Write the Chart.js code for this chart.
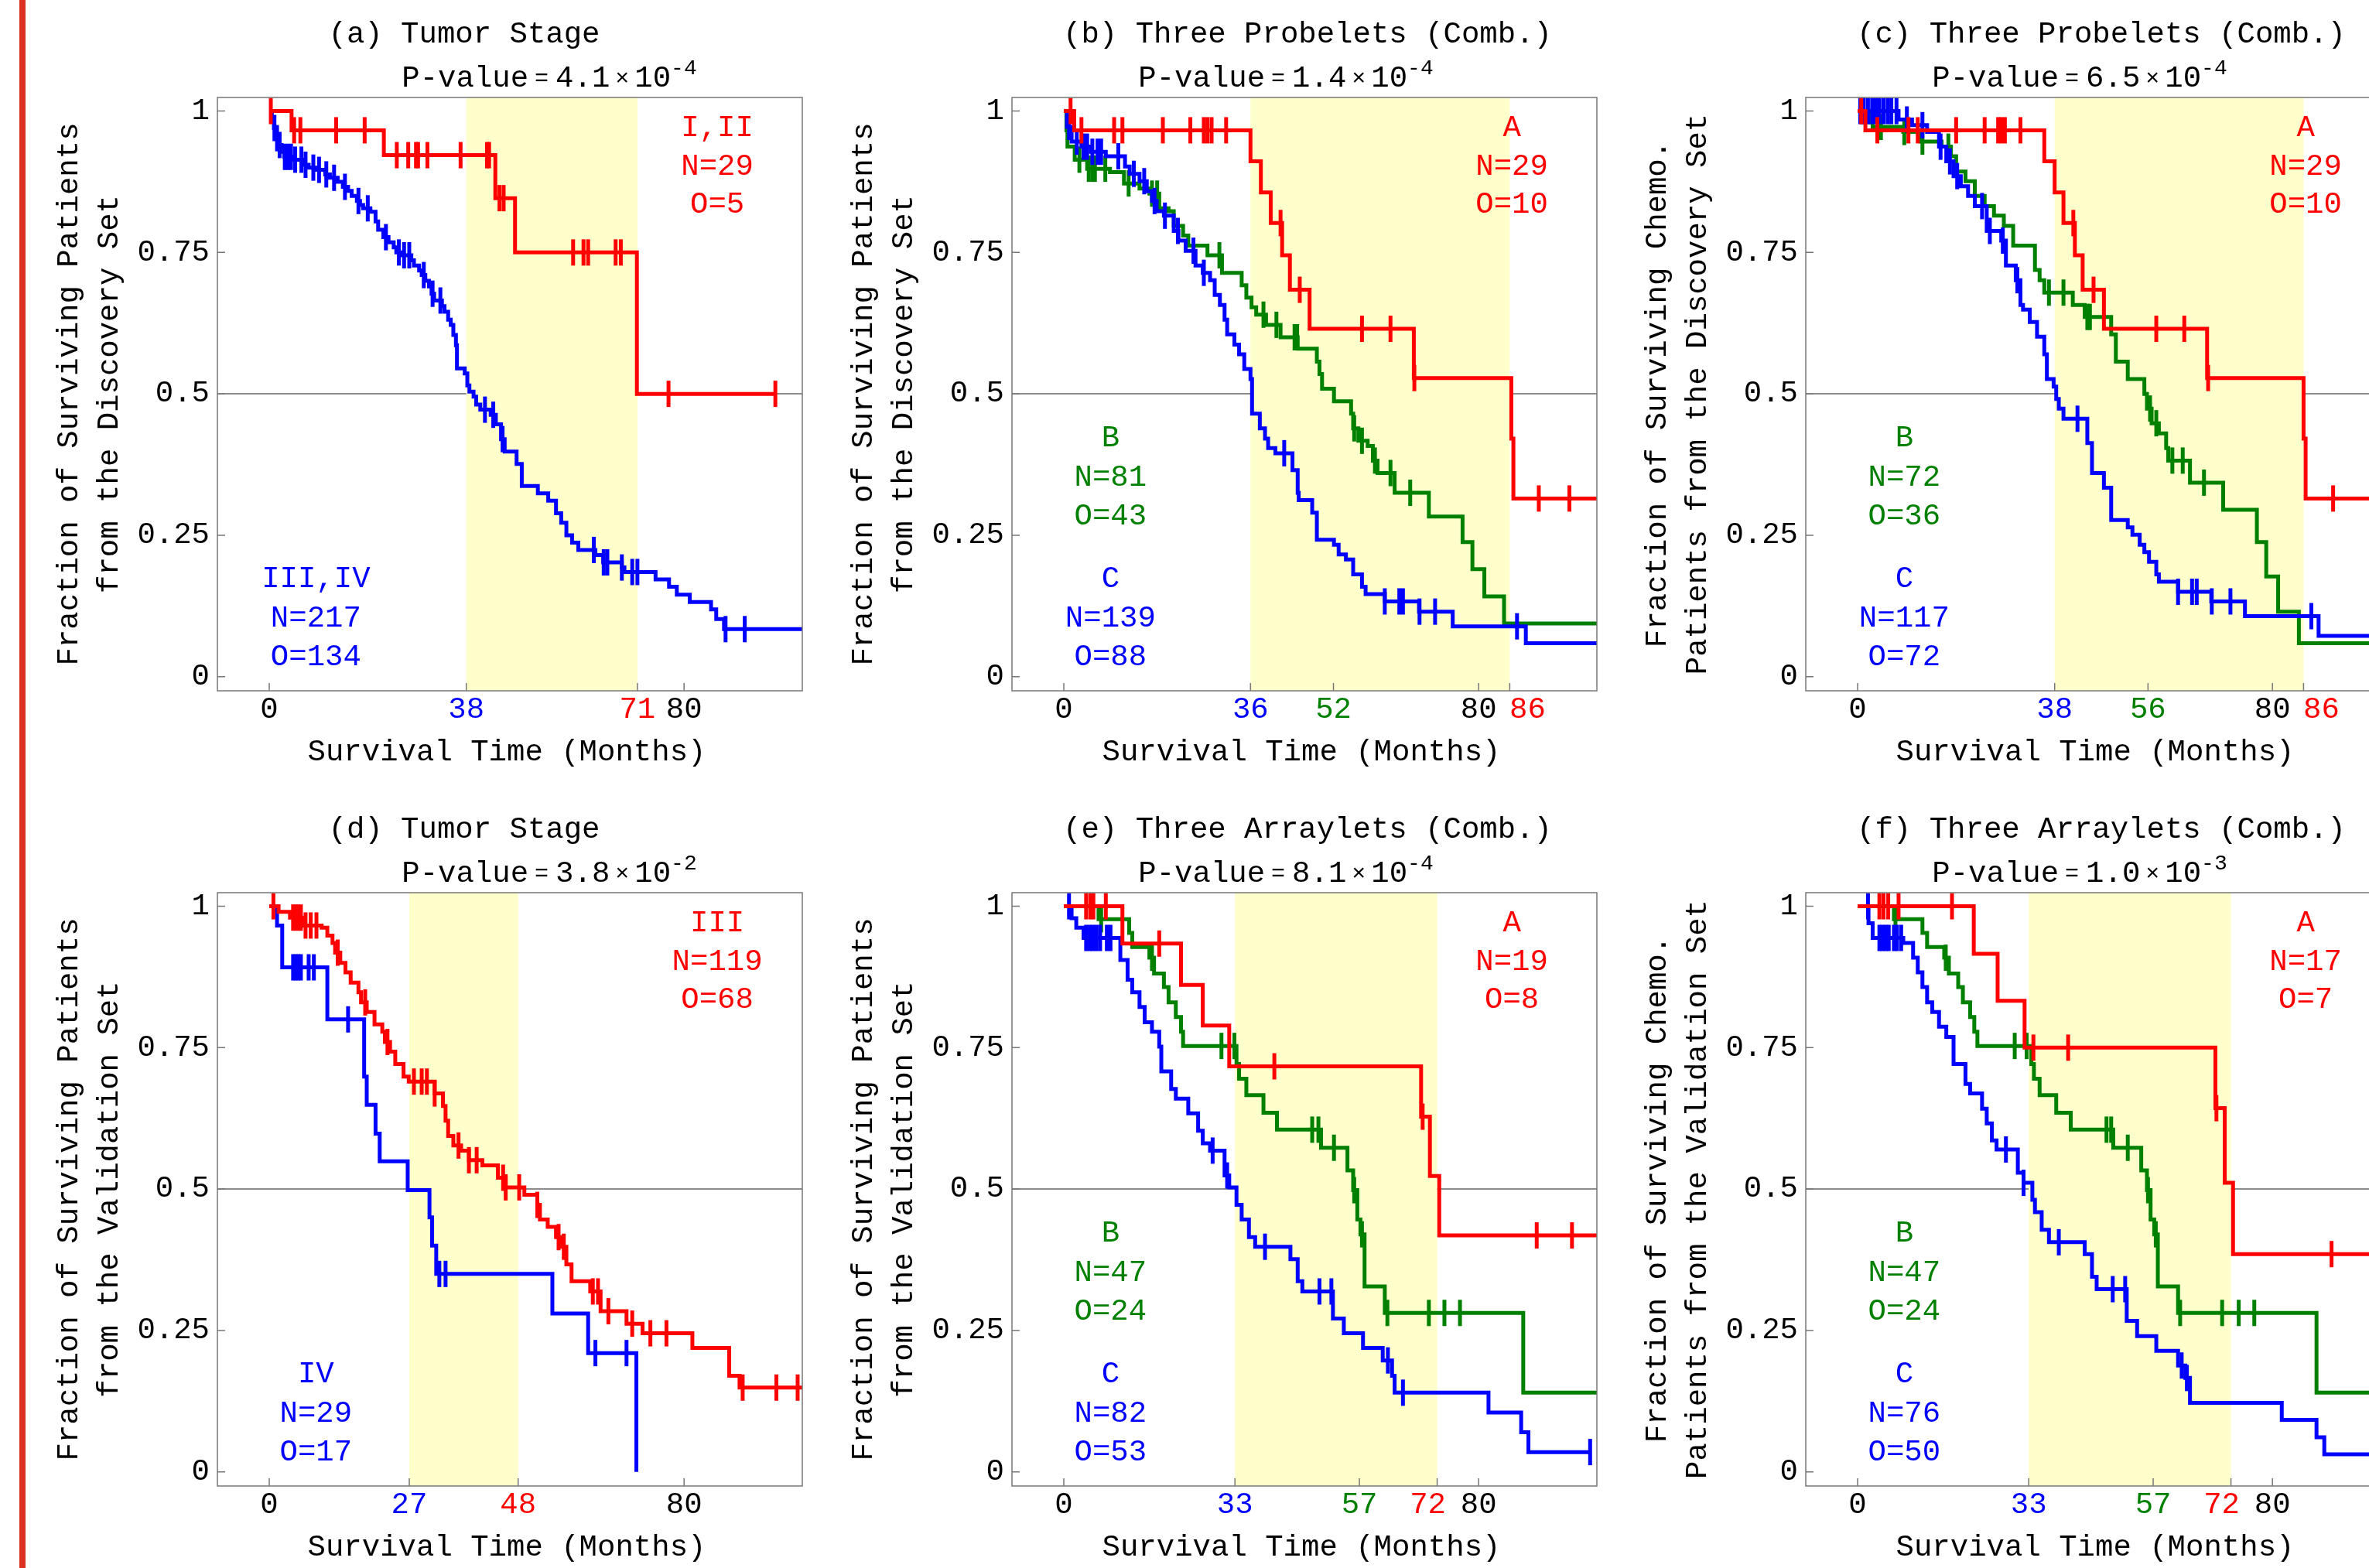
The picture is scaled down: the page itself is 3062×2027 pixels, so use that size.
<!DOCTYPE html>
<html>
<head>
<meta charset="utf-8">
<title>Survival by tumor stage, probelets and arraylets</title>
<script src="https://cdn.jsdelivr.net/npm/chart.js@4.4.1/dist/chart.umd.min.js"></script>
<style>
  html, body { margin: 0; padding: 0; background: #fff; width: 3062px; height: 2027px; overflow: hidden; }
  body { position: relative; }
  #edge { position: absolute; left: 25px; top: 0; width: 8px; height: 2027px; background: #dd3322; }
  canvas { position: absolute; }
</style>
</head>
<body>
<div id="edge"></div>
<script>
// ---- values (months, fraction surviving) ----
const yTicks = [0, 0.25, 0.5, 0.75, 1];

// (a) Tumor Stage, discovery set
const aTicks = [0, 38, 71, 80];
const aBand = [38, 71];
const aPValue = ['4.1', '-4'];
const aEarly = [[0,1],[4.3,0.966],[22.1,0.922],[43.6,0.846],[47.4,0.75],[70.9,0.5],[97.6,0.5]];
const aEarlyCens = [0.3,4.8,6.0,12.9,18.4,24.6,26.8,28.3,28.7,30.5,36.9,42.0,42.4,44.4,45.2,58.6,60.6,61.5,66.8,67.8,77.0,97.6];
const aLate = [[0,1],[0.5,0.985],[0.9,0.97],[1.2,0.952],[1.7,0.94],[2.4,0.928],[2.9,0.919],[4.5,0.914],[6.8,0.905],[7.6,0.9],
  [9.1,0.896],[10.8,0.888],[11.7,0.882],[13.2,0.875],[14.2,0.866],[15.2,0.859],[15.9,0.85],[16.9,0.841],[17.5,0.834],[18.1,0.828],
  [19.5,0.822],[20.5,0.805],[21.0,0.79],[22.0,0.777],[23.0,0.768],[24.0,0.759],[24.5,0.75],[25.4,0.745],[27.4,0.736],[27.9,0.727],
  [28.9,0.718],[29.4,0.71],[30.1,0.7],[30.8,0.69],[31.3,0.677],[31.8,0.665],[33.3,0.655],[33.8,0.645],[34.5,0.631],[35.0,0.622],
  [35.5,0.604],[36.0,0.586],[36.2,0.545],[37.7,0.536],[38.2,0.515],[38.6,0.504],[39.4,0.495],[39.9,0.481],[40.7,0.472],[42.7,0.463],
  [43.7,0.446],[44.7,0.42],[45.4,0.398],[47.7,0.376],[48.7,0.337],[51.8,0.324],[53.8,0.311],[55.3,0.289],[56.3,0.272],[57.3,0.25],
  [58.4,0.237],[59.6,0.224],[62.9,0.215],[64.4,0.202],[68.0,0.193],[68.5,0.185],[74.5,0.172],[77.1,0.159],[78.6,0.145],[81.1,0.132],
  [85.2,0.119],[86.2,0.102],[87.7,0.084],[103,0.084]];
const aLateCens = [1.0,1.5,2.0,3.0,3.6,4.2,5.0,6.2,7.0,8.5,9.6,11.0,12.5,14.6,17.2,19.0,22.5,25.0,26.0,27.0,29.8,31.5,33.0,
  41.6,43.2,45.0,62.6,64.5,65.2,68.0,70.0,71.0,88.0,91.7];
const aEarlyText = ['I,II', 'N=29', 'O=5'];
const aLateText = ['III,IV', 'N=217', 'O=134'];

// (b) Three Probelets (Comb.), discovery set
const bTicks = [0, 36, 52, 80, 86];
const bBand = [36, 86];
const bPValue = ['1.4', '-4'];
const bA = [[0,1],[2.0,0.966],[36.0,0.911],[38.0,0.856],[39.9,0.802],[42.1,0.745],[43.6,0.684],[47.4,0.615],[67.5,0.528],
  [86.3,0.421],[86.7,0.315],[103,0.315]];
const bACens = [1.3,3.4,9.7,11.3,19.1,24.4,27.0,27.7,28.5,31.3,41.8,45.5,57.5,63.0,67.6,91.6,97.5];
const bB = [[0,1],[0.5,0.966],[0.7,0.937],[2.1,0.914],[4.5,0.898],[8.9,0.892],[11.6,0.872],[14.6,0.863],[16.5,0.854],[18.4,0.828],
  [20.2,0.823],[21.2,0.797],[23.0,0.78],[24.0,0.762],[27.7,0.745],[30.5,0.714],[34.3,0.692],[35.2,0.67],[36.2,0.653],[37.1,0.64],
  [39.0,0.622],[41.8,0.6],[45.1,0.58],[48.8,0.557],[49.3,0.535],[49.8,0.509],[52.1,0.487],[55.4,0.465],[55.8,0.439],[56.8,0.417],
  [58.6,0.408],[59.6,0.382],[60.5,0.36],[63.8,0.325],[70.4,0.283],[76.9,0.238],[78.8,0.19],[81.1,0.142],[84.9,0.094],[103,0.094]];
const bBCens = [3.0,4.8,5.5,6.0,8.0,12.5,17.0,18.0,30.0,38.5,41.0,44.5,45.0,56.0,57.5,60.0,63.0,66.8];
const bC = [[0,1],[0.6,0.972],[1.5,0.946],[3.4,0.937],[5.2,0.928],[8.1,0.92],[11.8,0.902],[12.7,0.889],[14.6,0.876],[16.0,0.858],
  [17.0,0.841],[17.9,0.823],[19.3,0.815],[21.2,0.788],[22.1,0.771],[23.5,0.753],[25.4,0.727],[26.8,0.714],[28.2,0.701],[29.1,0.675],
  [30.1,0.657],[31.0,0.631],[31.5,0.605],[32.9,0.587],[33.8,0.57],[34.8,0.544],[36.0,0.526],[36.3,0.465],[37.8,0.439],[38.8,0.421],
  [39.4,0.404],[40.8,0.395],[44.1,0.365],[45.1,0.325],[45.3,0.312],[47.9,0.29],[48.8,0.242],[52.1,0.233],[53.0,0.216],[54.4,0.207],
  [55.8,0.181],[57.5,0.159],[58.2,0.146],[61.9,0.133],[68.5,0.115],[75.0,0.089],[89.1,0.059],[103,0.059]];
const bCCens = [1.0,2.5,3.8,4.5,5.5,6.5,7.2,10.5,13.5,15.5,17.5,19.5,22.0,25.0,27.0,42.5,61.9,64.7,65.4,68.6,71.6,87.4];
const bAText = ['A', 'N=29', 'O=10'];
const bBText = ['B', 'N=81', 'O=43'];
const bCText = ['C', 'N=139', 'O=88'];

// (c) Three Probelets (Comb.), chemo patients of the discovery set
const cTicks = [0, 38, 56, 80, 86];
const cBand = [38, 86];
const cPValue = ['6.5', '-4'];
const cA = [[0,1],[1.5,0.966],[36.0,0.911],[38.0,0.856],[39.7,0.802],[41.9,0.745],[43.4,0.684],[47.5,0.615],[67.4,0.528],
  [86.0,0.421],[86.4,0.315],[103,0.315]];
const cACens = [0.7,3.8,9.8,11.6,19.0,24.5,27.1,27.7,28.4,31.4,41.6,45.5,57.6,63.0,67.6,91.7];
const cB = [[0,1],[2.4,0.98],[2.9,0.972],[8.8,0.963],[12.1,0.946],[16.2,0.937],[18.0,0.92],[19.0,0.893],[20.8,0.876],[22.6,0.85],
  [24.5,0.832],[26.3,0.815],[28.2,0.797],[30.0,0.762],[34.2,0.719],[35.1,0.701],[36.0,0.679],[41.5,0.657],[43.8,0.636],[48.9,0.605],
  [49.8,0.557],[52.1,0.526],[55.3,0.5],[55.8,0.474],[56.7,0.448],[58.1,0.43],[59.5,0.404],[59.9,0.382],[64.1,0.343],[70.5,0.295],
  [77.0,0.238],[78.8,0.177],[81.1,0.115],[85.1,0.059],[103,0.059]];
const cBCens = [1.0,4.5,9.0,12.5,17.5,36.9,39.7,44.3,44.8,56.4,57.6,60.7,62.7,66.8];
const cC = [[0,1],[7.9,0.985],[10.5,0.975],[13.4,0.963],[15.7,0.937],[17.1,0.911],[18.5,0.885],[19.9,0.867],[21.3,0.85],[22.6,0.832],
  [24.9,0.788],[27.7,0.771],[28.6,0.727],[30.5,0.701],[31.4,0.657],[31.9,0.649],[33.2,0.627],[34.6,0.601],[36.0,0.57],[36.5,0.526],
  [37.8,0.513],[38.3,0.491],[38.8,0.474],[39.7,0.456],[44.3,0.413],[45.2,0.36],[47.5,0.334],[48.9,0.277],[52.1,0.264],[53.0,0.251],
  [54.4,0.233],[55.3,0.22],[56.2,0.203],[57.6,0.181],[58.1,0.168],[61.8,0.15],[68.2,0.133],[74.7,0.107],[88.9,0.072],[103,0.072]];
const cCCens = [0.5,1.2,2.0,2.8,3.5,4.2,5.0,5.8,6.5,7.5,9.5,12.5,16.0,17.8,19.2,24.0,25.5,28.0,30.8,42.4,61.8,64.5,65.4,68.3,71.9,87.5];
const cAText = ['A', 'N=29', 'O=10'];
const cBText = ['B', 'N=72', 'O=36'];
const cCText = ['C', 'N=117', 'O=72'];

// (d) Tumor Stage, validation set
const dTicks = [0, 27, 48, 80];
const dBand = [27, 48];
const dPValue = ['3.8', '-2'];
const dIII = [[0,1],[1.8,0.99],[4.0,0.98],[6.6,0.966],[10.1,0.962],[11.2,0.948],[12.2,0.935],[12.7,0.918],[13.7,0.9],[14.7,0.883],
  [15.7,0.865],[17.2,0.848],[17.7,0.83],[18.8,0.813],[20.3,0.791],[21.8,0.778],[22.3,0.76],[23.3,0.743],[24.3,0.721],[25.9,0.699],
  [26.9,0.69],[31.9,0.669],[33.5,0.647],[34.0,0.621],[34.5,0.594],[35.5,0.577],[37.0,0.568],[38.5,0.551],[41.1,0.542],[44.1,0.52],
  [45.6,0.503],[49.2,0.49],[51.7,0.472],[52.2,0.446],[53.7,0.433],[55.3,0.415],[56.3,0.398],[57.3,0.367],[58.3,0.337],[61.9,0.319],
  [63.9,0.284],[68.9,0.262],[72.0,0.245],[81.6,0.219],[88.7,0.17],[90.7,0.149],[103,0.149]];
const dIIICens = [0.8,4.6,5.1,5.6,6.1,7.0,8.0,9.1,13.2,18.5,22.8,27.9,29.4,30.4,31.9,36.5,38.5,40.0,45.1,45.6,48.2,51.7,55.8,56.8,
  62.4,63.4,65.4,70.0,73.5,76.6,91.3,97.8,101.9];
const dIV = [[0,1],[1.5,0.966],[2.5,0.892],[11.2,0.8],[18.3,0.699],[18.8,0.649],[20.5,0.598],[21.3,0.549],[26.7,0.498],[30.9,0.45],
  [31.4,0.4],[32.2,0.35],[54.6,0.28],[61.5,0.21],[70.8,0.0]];
const dIVCens = [4.6,5.1,5.6,6.1,7.6,8.6,15.2,32.8,34.0,62.9,68.9];
const dIIIText = ['III', 'N=119', 'O=68'];
const dIVText = ['IV', 'N=29', 'O=17'];

// (e) Three Arraylets (Comb.), validation set
const eTicks = [0, 33, 57, 72, 80];
const eBand = [33, 72];
const ePValue = ['8.1', '-4'];
const eA = [[0,1],[11.3,0.934],[22.6,0.861],[26.8,0.789],[31.9,0.717],[68.9,0.628],[70.6,0.523],[72.4,0.418],[103,0.418]];
const eACens = [4.3,5.1,5.7,8.1,18.4,40.6,69.2,91.2,98.0];
const eB = [[0,1],[6.7,0.977],[12.6,0.953],[13.2,0.928],[16.5,0.909],[17.4,0.881],[19.3,0.857],[20.2,0.83],[21.6,0.804],[22.6,0.778],
  [23.0,0.753],[33.3,0.721],[33.8,0.695],[35.2,0.666],[38.5,0.635],[41.1,0.605],[49.6,0.573],[54.7,0.533],[55.8,0.498],[56.6,0.446],
  [57.2,0.42],[58.0,0.328],[61.9,0.281],[88.6,0.14],[103,0.14]];
const eBCens = [7.2,17.0,30.4,32.9,47.9,49.1,52.1,56.0,57.5,62.4,70.4,73.4,76.4];
const eC = [[0,1],[1.5,0.979],[2.4,0.962],[3.8,0.944],[10.9,0.905],[12.3,0.87],[13.2,0.848],[14.6,0.822],[15.6,0.795],[17.0,0.778],
  [18.4,0.752],[18.8,0.708],[20.7,0.677],[21.6,0.66],[24.0,0.634],[25.9,0.603],[26.8,0.581],[28.2,0.568],[31.0,0.524],[31.9,0.503],
  [33.3,0.472],[34.3,0.446],[35.7,0.415],[36.9,0.398],[43.7,0.376],[45.1,0.337],[46.0,0.319],[51.9,0.271],[54.0,0.245],[57.7,0.219],
  [61.5,0.197],[63.3,0.17],[63.8,0.14],[81.9,0.105],[88.2,0.07],[89.6,0.035],[101.5,0.035]];
const eCCens = [1.0,4.3,5.0,5.6,6.3,7.0,8.3,9.0,28.7,31.5,38.8,49.3,51.6,62.5,65.4,101.5];
const eAText = ['A', 'N=19', 'O=8'];
const eBText = ['B', 'N=47', 'O=24'];
const eCText = ['C', 'N=82', 'O=53'];

// (f) Three Arraylets (Comb.), chemo patients of the validation set
const fTicks = [0, 33, 57, 72, 80];
const fBand = [33, 72];
const fPValue = ['1.0', '-3'];
const fA = [[0,1],[22.4,0.916],[27.0,0.833],[32.2,0.75],[69.0,0.643],[70.8,0.511],[72.4,0.385],[103,0.385]];
const fACens = [4.2,5.0,5.9,7.9,18.2,33.9,40.6,69.2,91.4];
const fB = [[0,1],[7.0,0.977],[12.5,0.953],[13.4,0.928],[16.7,0.909],[17.6,0.881],[19.4,0.857],[20.3,0.83],[21.7,0.804],[22.5,0.778],
  [23.1,0.753],[33.5,0.721],[34.0,0.695],[35.1,0.666],[38.3,0.635],[41.1,0.605],[49.3,0.573],[54.7,0.533],[55.8,0.498],[56.5,0.446],
  [57.2,0.42],[57.9,0.328],[61.8,0.281],[88.5,0.14],[103,0.14]];
const fBCens = [7.3,17.0,30.3,32.6,48.0,48.9,52.1,56.0,57.5,62.2,70.3,73.5,76.5];
const fC = [[0,1],[2.1,0.97],[2.9,0.944],[8.8,0.935],[10.7,0.909],[11.6,0.883],[12.5,0.857],[13.4,0.83],[14.4,0.813],[15.7,0.787],
  [17.1,0.769],[18.5,0.721],[20.8,0.686],[21.7,0.669],[24.0,0.642],[24.9,0.616],[25.9,0.586],[26.8,0.57],[30.9,0.529],[32.0,0.511],
  [33.7,0.481],[34.2,0.459],[35.5,0.428],[36.9,0.406],[43.8,0.385],[45.2,0.345],[46.1,0.323],[51.9,0.267],[53.9,0.24],[57.6,0.214],
  [61.8,0.188],[63.2,0.166],[64.1,0.122],[81.8,0.092],[88.5,0.061],[90.0,0.031],[103,0.031]];
const fCCens = [2.0,4.2,4.8,5.4,6.0,7.0,7.6,8.4,28.6,32.0,38.8,49.2,51.6,62.5,63.5];
const fAText = ['A', 'N=17', 'O=7'];
const fBText = ['B', 'N=47', 'O=24'];
const fCText = ['C', 'N=76', 'O=50'];

// ---- styles and layout ----
const FONT = "'Liberation Mono', 'Courier New', monospace";
const FS = 39;
const RED = '#ff0000', GREEN = '#008000', BLUE = '#0000ff';
const BAND = '#ffffcc', FRAME = '#777777';
const FRAME_LEFT = [281, 1308, 2334];
const FRAME_TOP = [126, 1154];
const PAD_LEFT = 240, PAD_TOP = 125, AXIS_H = 110, PLOT_W = 768, PLOT_H = 767;
// where each text group sits, in data units
const GROUP_POS = {
  top: { t: 86.4, rows: [0.97, 0.902, 0.834] },
  mid: { t: 9.0, rows: [0.421, 0.351, 0.283] },
  low: { t: 9.0, rows: [0.172, 0.102, 0.034] }
};

const discovery = ['Fraction of Surviving Patients', 'from the Discovery Set'];
const discoveryChemo = ['Fraction of Surviving Chemo.', 'Patients from the Discovery Set'];
const validation = ['Fraction of Surviving Patients', 'from the Validation Set'];
const validationChemo = ['Fraction of Surviving Chemo.', 'Patients from the Validation Set'];

const panels = [
  { id: 'a', col: 0, row: 0, title: '(a) Tumor Stage', pValue: aPValue, yTitle: discovery,
    ticks: aTicks, tickColors: { 38: BLUE, 71: RED }, labelShift: {}, band: aBand,
    curves: [{ steps: aEarly, cens: aEarlyCens, color: RED }, { steps: aLate, cens: aLateCens, color: BLUE }],
    groups: [{ pos: 'top', color: RED, lines: aEarlyText }, { pos: 'low', color: BLUE, lines: aLateText }] },
  { id: 'b', col: 1, row: 0, title: '(b) Three Probelets (Comb.)', pValue: bPValue, yTitle: discovery,
    ticks: bTicks, tickColors: { 36: BLUE, 52: GREEN, 86: RED }, labelShift: { 86: 23 }, band: bBand,
    curves: [{ steps: bA, cens: bACens, color: RED }, { steps: bC, cens: bCCens, color: BLUE }, { steps: bB, cens: bBCens, color: GREEN }],
    groups: [{ pos: 'top', color: RED, lines: bAText }, { pos: 'mid', color: GREEN, lines: bBText }, { pos: 'low', color: BLUE, lines: bCText }] },
  { id: 'c', col: 2, row: 0, title: '(c) Three Probelets (Comb.)', pValue: cPValue, yTitle: discoveryChemo,
    ticks: cTicks, tickColors: { 38: BLUE, 56: GREEN, 86: RED }, labelShift: { 86: 23 }, band: cBand,
    curves: [{ steps: cA, cens: cACens, color: RED }, { steps: cC, cens: cCCens, color: BLUE }, { steps: cB, cens: cBCens, color: GREEN }],
    groups: [{ pos: 'top', color: RED, lines: cAText }, { pos: 'mid', color: GREEN, lines: cBText }, { pos: 'low', color: BLUE, lines: cCText }] },
  { id: 'd', col: 0, row: 1, title: '(d) Tumor Stage', pValue: dPValue, yTitle: validation,
    ticks: dTicks, tickColors: { 27: BLUE, 48: RED }, labelShift: {}, band: dBand,
    curves: [{ steps: dIII, cens: dIIICens, color: RED }, { steps: dIV, cens: dIVCens, color: BLUE }],
    groups: [{ pos: 'top', color: RED, lines: dIIIText }, { pos: 'low', color: BLUE, lines: dIVText }] },
  { id: 'e', col: 1, row: 1, title: '(e) Three Arraylets (Comb.)', pValue: ePValue, yTitle: validation,
    ticks: eTicks, tickColors: { 33: BLUE, 57: GREEN, 72: RED }, labelShift: { 72: -12 }, band: eBand,
    curves: [{ steps: eA, cens: eACens, color: RED }, { steps: eC, cens: eCCens, color: BLUE }, { steps: eB, cens: eBCens, color: GREEN }],
    groups: [{ pos: 'top', color: RED, lines: eAText }, { pos: 'mid', color: GREEN, lines: eBText }, { pos: 'low', color: BLUE, lines: eCText }] },
  { id: 'f', col: 2, row: 1, title: '(f) Three Arraylets (Comb.)', pValue: fPValue, yTitle: validationChemo,
    ticks: fTicks, tickColors: { 33: BLUE, 57: GREEN, 72: RED }, labelShift: { 72: -12 }, band: fBand,
    curves: [{ steps: fA, cens: fACens, color: RED }, { steps: fC, cens: fCCens, color: BLUE }, { steps: fB, cens: fBCens, color: GREEN }],
    groups: [{ pos: 'top', color: RED, lines: fAText }, { pos: 'mid', color: GREEN, lines: fBText }, { pos: 'low', color: BLUE, lines: fCText }] }
];

// value of a step curve at time t (used to sit the censor marks on the curve)
function survivalAt(steps, t) {
  let s = steps[0][1];
  for (const [ti, si] of steps) {
    if (ti <= t) s = si; else break;
  }
  return s;
}

// P-value = m x 10^e, drawn piece by piece so the exponent can be raised
function drawPValue(ctx, cx, cy, pValue) {
  const pieces = [
    { text: 'P-value', size: FS, gap: 0 },
    { text: '=', size: 30, gap: 8 },
    { text: pValue[0], size: FS, gap: 9 },
    { text: '\u00d7', size: 30, gap: 7 },
    { text: '10', size: FS, gap: 7 },
    { text: pValue[1], size: 28, gap: 0, up: 13 }
  ];
  let total = 0;
  pieces.forEach(p => {
    ctx.font = p.size + 'px ' + FONT;
    p.w = ctx.measureText(p.text).width;
    total += p.gap + p.w;
  });
  let x = cx - total / 2;
  ctx.textAlign = 'left';
  pieces.forEach(p => {
    x += p.gap;
    ctx.font = p.size + 'px ' + FONT;
    ctx.fillText(p.text, x, cy - (p.up || 0));
    x += p.w;
  });
}

function decorations(panel) {
  const titleDx = panel.col === 0 ? 319 : 382;
  const pDx = panel.col === 0 ? 429 : 354;
  return {
    id: 'decor-' + panel.id,
    beforeDatasetsDraw(chart) {
      const { ctx, chartArea: a, scales: { x } } = chart;
      const x0 = x.getPixelForValue(panel.band[0]);
      const x1 = x.getPixelForValue(panel.band[1]);
      ctx.save();
      ctx.fillStyle = BAND;
      ctx.fillRect(x0, a.top, x1 - x0, a.bottom - a.top);
      ctx.restore();
    },
    afterDraw(chart) {
      const { ctx, chartArea: a, scales: { x, y } } = chart;
      ctx.save();

      // frame and inward tick marks
      ctx.strokeStyle = FRAME;
      ctx.lineWidth = 1.5;
      ctx.strokeRect(a.left, a.top, a.right - a.left, a.bottom - a.top);
      ctx.beginPath();
      yTicks.forEach(v => {
        const py = y.getPixelForValue(v);
        ctx.moveTo(a.left, py);
        ctx.lineTo(a.left + 10, py);
      });
      panel.ticks.forEach(v => {
        const px = x.getPixelForValue(v);
        ctx.moveTo(px, a.bottom);
        ctx.lineTo(px, a.bottom - 10);
      });
      ctx.stroke();

      ctx.textBaseline = 'middle';
      ctx.textAlign = 'center';
      ctx.font = FS + 'px ' + FONT;

      // x tick labels, nudged apart where two of them nearly touch
      panel.ticks.forEach(v => {
        ctx.fillStyle = panel.tickColors[v] || '#000';
        ctx.fillText(String(v), x.getPixelForValue(v) + (panel.labelShift[v] || 0), a.bottom + 25);
      });

      // titles
      ctx.fillStyle = '#000';
      ctx.fillText(panel.title, a.left + titleDx, a.top - 81);
      drawPValue(ctx, a.left + pDx, a.top - 24, panel.pValue);

      // axis titles
      ctx.textAlign = 'center';
      ctx.font = FS + 'px ' + FONT;
      ctx.fillText('Survival Time (Months)', (a.left + a.right) / 2 - 4, a.bottom + 80);
      const midY = (a.top + a.bottom) / 2;
      [-191, -139].forEach((dx, i) => {
        ctx.save();
        ctx.translate(a.left + dx, midY);
        ctx.rotate(-Math.PI / 2);
        ctx.fillText(panel.yTitle[i], 0, 0);
        ctx.restore();
      });

      // group labels
      panel.groups.forEach(g => {
        const pos = GROUP_POS[g.pos];
        ctx.fillStyle = g.color;
        g.lines.forEach((line, i) => {
          ctx.fillText(line, x.getPixelForValue(pos.t), y.getPixelForValue(pos.rows[i]));
        });
      });
      ctx.restore();
    }
  };
}

panels.forEach(panel => {
  const canvas = document.createElement('canvas');
  canvas.width = PAD_LEFT + PLOT_W + 10;
  canvas.height = PAD_TOP + PLOT_H + AXIS_H;
  canvas.style.left = (FRAME_LEFT[panel.col] - PAD_LEFT) + 'px';
  canvas.style.top = (FRAME_TOP[panel.row] - PAD_TOP) + 'px';
  document.body.appendChild(canvas);

  const datasets = [];
  panel.curves.forEach(c => {
    datasets.push({
      type: 'line',
      data: c.steps.map(([t, s]) => ({ x: t, y: s })),
      stepped: 'before',
      borderColor: c.color,
      borderWidth: 5,
      pointRadius: 0,
      fill: false
    });
    datasets.push({
      type: 'scatter',
      data: c.cens.map(t => ({ x: t, y: survivalAt(c.steps, t) })),
      pointStyle: 'line',
      pointRotation: 90,
      pointRadius: 17,
      pointBorderColor: c.color,
      pointBorderWidth: 5,
      pointBackgroundColor: c.color
    });
  });

  new Chart(canvas, {
    data: { datasets: datasets },
    options: {
      responsive: false,
      animation: false,
      devicePixelRatio: 1,
      events: [],
      layout: { padding: { left: 0, top: PAD_TOP, right: 10, bottom: 0 } },
      plugins: { legend: { display: false }, tooltip: { enabled: false } },
      scales: {
        x: {
          type: 'linear',
          min: -10,
          max: 102.8,
          afterBuildTicks: s => { s.ticks = panel.ticks.map(v => ({ value: v })); },
          afterFit: s => { s.height = AXIS_H; },
          grid: { display: false, drawTicks: false },
          border: { display: false },
          ticks: { display: false }
        },
        y: {
          type: 'linear',
          min: -0.025,
          max: 1.024,
          afterBuildTicks: s => { s.ticks = yTicks.map(v => ({ value: v })); },
          afterFit: s => { s.width = PAD_LEFT; },
          grid: {
            drawTicks: false,
            lineWidth: 2,
            color: c => (c.tick && c.tick.value === 0.5) ? '#8c8c8c' : 'rgba(0,0,0,0)'
          },
          border: { display: false },
          ticks: {
            padding: 10,
            font: { family: FONT, size: FS },
            color: '#000',
            callback: v => String(v)
          }
        }
      }
    },
    plugins: [decorations(panel)]
  });
});
</script>
</body>
</html>
